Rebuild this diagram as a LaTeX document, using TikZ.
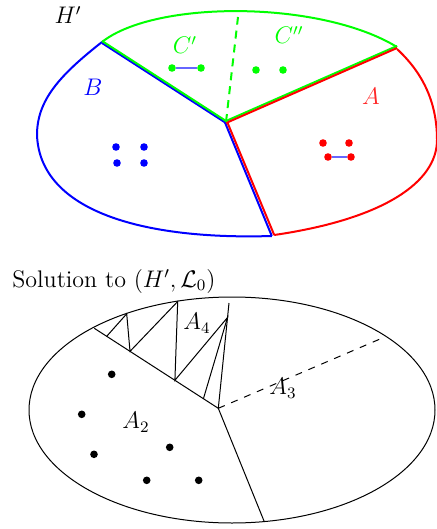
\documentclass[tikz,border=0pt]{standalone}
\usetikzlibrary{calc}
\begin{document}
\begin{tikzpicture}[x=0.5pt,y=-0.5pt,
  every node/.style={font=\fontsize{12}{14}\selectfont},
  gline/.style={draw=green,line width=1pt},
  bline/.style={draw=blue,line width=1pt},
  rline/.style={draw=red,line width=1pt},
  kline/.style={draw=black,line width=0.5pt},
  link/.style={draw=blue!60,line width=0.6pt},
  dotnode/.style={circle,fill,inner sep=0pt,minimum size=3.8pt},
  lab/.style={inner sep=0pt}]
\useasboundingbox (0,0) rectangle (436,529);

% ---------- top figure ----------
\coordinate (C) at (226,122);
\coordinate (G1) at (102,42);
\coordinate (G2) at (397,47);
\coordinate (BB) at (273,236);
\coordinate (GT) at (238,17);
\coordinate (BL) at (37,135);
\coordinate (RR) at (437,140);

\draw[gline] (G1) .. controls (155,0) and (320,0) .. (G2);
\draw[bline] (G1) .. controls (60,75) and (37,100) .. (BL)
  .. controls (40,212) and (145,240) .. ([xshift=-0.6pt]BB);
\draw[rline] ([yshift=-1pt]G2) .. controls (425,75) and (437,105) .. (RR)
  .. controls (437,182) and (384,219) .. ([xshift=0.6pt,yshift=0.5pt]BB);

\draw[bline] ([xshift=-0.6pt]C) -- ([xshift=-0.6pt]BB);
\draw[rline] ([xshift=0.6pt]C) -- ([xshift=0.6pt,yshift=0.5pt]BB);
\draw[bline] ([yshift=-0.5pt]C) -- ([yshift=-0.5pt]G1);
\draw[gline] ([yshift=0.5pt]C) -- ([yshift=0.5pt]G1);
\draw[gline] ([yshift=0.5pt]C) -- ([yshift=0.5pt]G2);
\draw[rline] ([yshift=-0.5pt]C) -- ([yshift=-0.5pt]G2);
\draw[gline,dash pattern=on 4pt off 3pt] (C) -- (GT);

\node[dotnode,green] (c1) at (172,68) {};
\node[dotnode,green] (c2) at (201,68) {};
\node[dotnode,green] (c3) at (256,70) {};
\node[dotnode,green] (c4) at (283,70) {};
\draw[link] (c1) -- (c2);

\node[dotnode,blue] (b1) at (116,147) {};
\node[dotnode,blue] (b2) at (144,147) {};
\node[dotnode,blue] (b3) at (117,163) {};
\node[dotnode,blue] (b4) at (144,163) {};

\node[dotnode,red] (r1) at (323,143) {};
\node[dotnode,red] (r2) at (349,143) {};
\node[dotnode,red] (r3) at (328,157) {};
\node[dotnode,red] (r4) at (351,157) {};
\draw[link] (r3) -- (r4);

\node[lab] (lH) at (68,15) {$H'$};
\node[lab,text=green] (lC1) at (185,45) {$C'$};
\node[lab,text=green] (lC2) at (289,35) {$C''$};
\node[lab,text=blue] (lB) at (93,87) {$B$};
\node[lab,text=red!85] (lA) at (371,96) {$A$};

% ---------- bottom figure ----------
\draw[kline] (232,410) ellipse [x radius=203, y radius=113];
\coordinate (P) at (218.3,408.3);
\coordinate (Pb) at (264.3,521.7);
\coordinate (D0) at (94.3,328.3);
\coordinate (E3) at (229,303);
\coordinate (Q) at (227.5,317.5);
\coordinate (DE) at (381.7,338.3);
\coordinate (D1) at ($(D0)!0.1!(P)$);
\coordinate (D2) at ($(D0)!0.288!(P)$);
\coordinate (D3) at ($(D0)!0.65!(P)$);
\coordinate (D4) at ($(D0)!0.88!(P)$);
\coordinate (E1) at (126.7,313.8);
\coordinate (E2) at (177.7,301.5);

\draw[kline] (D0) -- (P) -- (Pb);
\draw[kline] (P) -- (E3);
\draw[kline] (D1) -- (E1) -- (D2) -- (E2) -- (D3) -- (Q) -- (D4);
\draw[kline,dash pattern=on 3.5pt off 3.5pt] (P) -- (DE);

\node[dotnode] (k1) at (111.7,374.3) {};
\node[dotnode] (k2) at (81.7,414.3) {};
\node[dotnode] (k3) at (94,454.3) {};
\node[dotnode] (k4) at (169.7,447.3) {};
\node[dotnode] (k5) at (146.7,480.3) {};
\node[dotnode] (k6) at (198.7,480.3) {};

\node[lab] (lA4) at (197,323) {$A_4$};
\node[lab] (lA3) at (283,388) {$A_3$};
\node[lab] (lA2) at (136,422) {$A_2$};
\node[lab,anchor=west] (lsol) at (12,281) {Solution to $(H',\mathcal{L}_0)$};
\end{tikzpicture}
\end{document}
